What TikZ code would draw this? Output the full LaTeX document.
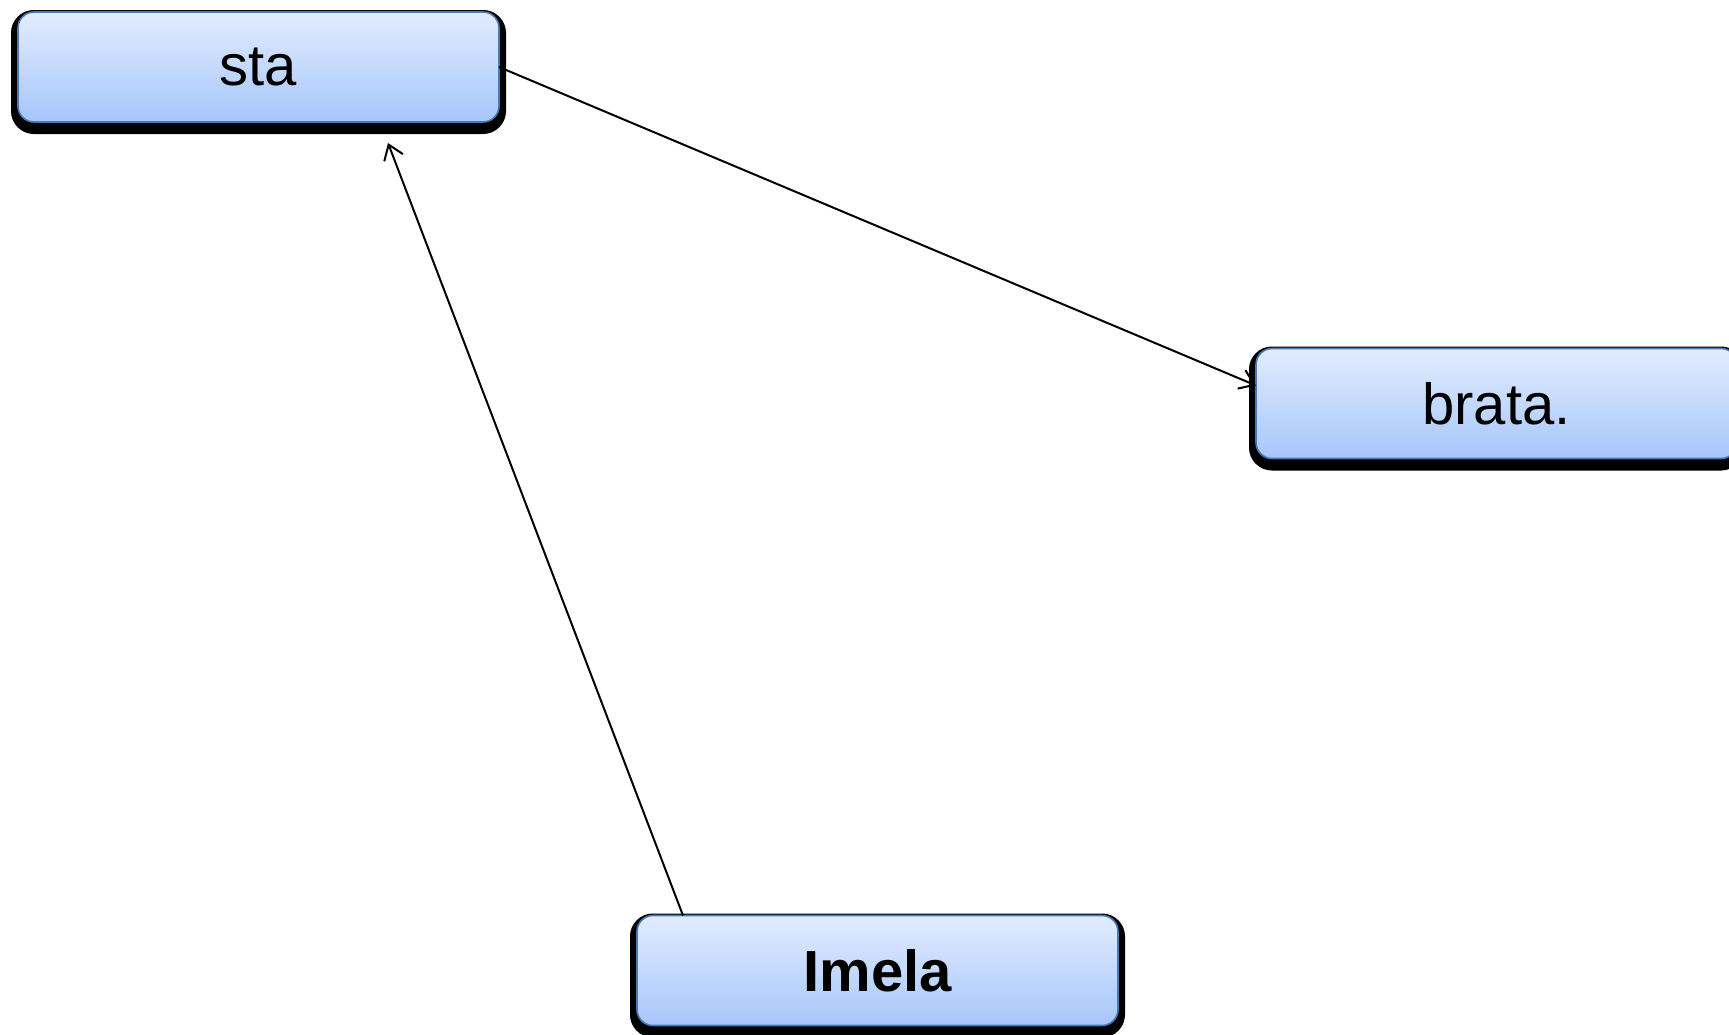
\documentclass[tikz,border=0pt]{standalone}
\usepackage{fontspec}
\setmainfont{Liberation Sans}
\usetikzlibrary{arrows.meta}
\definecolor{boxtop}{HTML}{E2ECFD}
\definecolor{boxbot}{HTML}{A6C6FB}
\definecolor{boxline}{HTML}{4A7AB5}
\tikzstyle{block} = [rectangle, draw=boxline, line width=0.8pt, top color=boxtop,
    bottom color=boxbot, rounded corners=8pt, minimum width=240.5pt,
    minimum height=55pt, outer sep=0pt, font=\fontsize{29}{34}\selectfont,
    preaction={draw=black, fill=black, line width=7pt,
    transform canvas={yshift=-2.5pt}}]
\tikzstyle{line} = [draw, -{Straight Barb[length=7pt,width=10pt]}, line width=1pt]

\begin{document}
\begin{tikzpicture}[x=0.5pt, y=-0.5pt]
    \useasboundingbox (0,0) rectangle (1729,1034);
    % Place nodes
    \node [block] (sta) at (258.5,67) {sta};
    \node [block] (brata) at (1496.5,403.5) {brata.};
    \node [block, font=\fontsize{29}{34}\selectfont\bfseries] (imela) at (877.5,970.5) {Imela};
    % Draw edges
    \path [line] (sta.east) -- ([yshift=9pt]brata.west);
    \path [line] ([xshift=23pt]imela.north west) -- ([xshift=185pt,yshift=-10.5pt]sta.south west);
\end{tikzpicture}
\end{document}
